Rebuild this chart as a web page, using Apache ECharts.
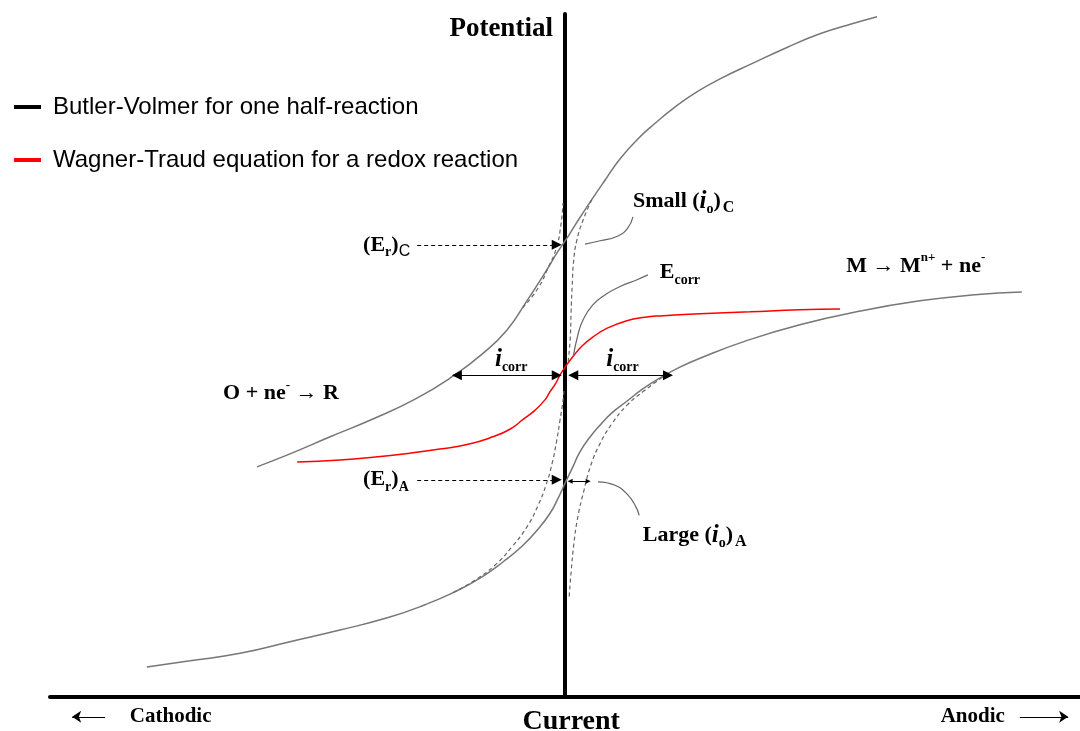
<!DOCTYPE html>
<html><head><meta charset="utf-8">
<script src="https://cdn.jsdelivr.net/npm/echarts@6/dist/echarts.min.js"></script>
<style>html,body{margin:0;padding:0;background:#fff}#c{width:1080px;height:731px}</style>
</head><body><div id="c"></div>
<script>
// x = current (cathodic < 0 < anodic), y = potential (arbitrary units)
const bvCathodic = [[-59.8,33.7],[-53.4,35.6],[-45.6,38.1],[-37.3,40.7],[-29.1,43.6],[-21.7,47.0],[-16.1,50.2],[-11.3,53.7],[-7.4,58.0],[-3.9,62.1],[-1.4,65.2],[0.4,67.2],[2.3,69.5],[4.9,72.5],[7.8,75.7],[10.7,78.8],[14.0,81.6],[17.5,84.0],[21.4,86.4],[25.6,88.6],[30.1,90.5],[36.5,92.8],[43.1,95.1],[49.5,97.1],[55.9,98.6],[60.6,99.6]];
const bvAnodic = [[-81.2,4.4],[-72.8,5.3],[-63.1,6.4],[-53.4,8.1],[-43.7,9.8],[-34.0,11.7],[-27.2,13.5],[-21.4,15.4],[-16.5,17.4],[-12.0,19.8],[-8.3,22.1],[-5.2,24.6],[-2.9,26.9],[-1.4,29.0],[0.2,31.6],[1.6,33.8],[2.9,35.9],[4.9,38.1],[6.8,39.8],[9.1,41.6],[12.0,43.3],[15.1,45.1],[18.4,46.7],[22.3,48.3],[26.2,49.6],[35.0,52.1],[45.6,54.5],[57.3,56.5],[68.9,58.0],[79.6,58.9],[88.7,59.3]];
const cathTafelExt = [[-8.2,57.0],[-5.2,59.9],[-3.3,62.8],[-1.7,65.7],[-0.8,69.1],[-0.4,72.3]];
const cathOxBranch = [[5.2,72.8],[3.5,69.8],[2.3,66.9],[1.7,64.0],[1.4,60.3],[1.2,56.7],[1.0,52.3],[0.6,49.0]];
const anodRedBranch = [[-21.7,15.3],[-17.5,17.1],[-13.6,19.3],[-10.3,22.0],[-7.4,24.9],[-5.2,28.1],[-3.7,31.0],[-2.5,34.2],[-1.6,37.6],[-1.0,40.4],[-0.4,43.3],[-0.2,44.8]];
const anodTafelExt = [[20.0,47.4],[15.5,44.9],[12.0,42.7],[9.1,40.0],[6.8,37.1],[5.0,33.9],[3.7,30.3],[2.5,26.4],[1.7,22.3],[1.2,18.4],[0.8,14.6]];
const wagnerTraud = [[-52.0,34.4],[-43.7,34.7],[-37.3,35.1],[-30.1,35.7],[-24.3,36.3],[-18.8,37.0],[-14.0,38.1],[-10.7,39.2],[-8.2,40.6],[-5.8,42.0],[-3.9,43.5],[-2.9,44.7],[-1.9,45.8],[-1.0,47.1],[0.2,48.5],[1.6,49.9],[3.3,51.4],[5.4,52.7],[8.2,54.0],[12.0,55.1],[15.5,55.6],[18.4,55.8],[26.2,56.1],[35.9,56.4],[45.6,56.7],[53.4,56.8]];
const leaderSmall = [[13.2,70.3],[12.2,68.7],[10.3,67.5],[6.8,66.8],[3.9,66.3]];
const leaderEcorr = [[16.1,61.8],[14.0,61.1],[10.7,60.1],[7.8,58.9],[5.4,57.4],[3.5,55.2],[2.5,53.0],[1.6,49.8]];
const leaderLarge = [[6.4,31.5],[9.7,31.0],[12.2,29.6],[13.8,27.8],[14.4,26.6]];
const arrowErC = [[-28.7,66.2],[-1.6,66.2]];
const arrowErA = [[-28.7,31.8],[-1.6,31.8]];
const arrowIcorrL = [[-21.0,47.1],[-1.6,47.1]];
const arrowIcorrR = [[1.6,47.1],[20.0,47.1]];
const arrowLargeIo = [[1.0,31.6],[4.5,31.6]];
const arrowCathodic = [[-89.3,-2.9],[-95.7,-2.9]];
const arrowAnodic = [[88.3,-2.9],[97.7,-2.9]];
const legendNames = ['Butler-Volmer for one half-reaction', 'Wagner-Traud equation for a redox reaction'];
// annotation texts and their anchor points (data coords)
const annotations = [
  {text:'{big|Potential}', at:[-12.4,97.8], align:'center'},
  {text:'{t|Small (}{it|i}{sub|o}{t|)}{subC|C}', at:[13.2,72.6], align:'left'},
  {text:'{t|E}{sub|corr}', at:[18.4,62.2], align:'left'},
  {text:'{t|M → M}{sup|n+}{t| + ne}{sup|-}', at:[54.6,63.1], align:'left'},
  {text:'{t|O + ne}{sup|-}{t| → R}', at:[-66.4,44.4], align:'left'},
  {text:'{t|(E}{sub|r}{t|)}{subn|C}', at:[-39.2,66.2], align:'left'},
  {text:'{t|(E}{sub|r}{t|)}{sub|A}', at:[-39.2,31.8], align:'left'},
  {text:'{it|i}{sub|corr}', at:[-13.6,49.4], align:'left'},
  {text:'{it|i}{sub|corr}', at:[8.0,49.4], align:'left'},
  {text:'{t|Large (}{it|i}{sub|o}{t|)}{subC|A}', at:[15.1,23.7], align:'left'},
  {text:'{b|Cathodic}', at:[-84.5,-2.9], align:'left'},
  {text:'{cur|Current}', at:[1.2,-3.6], align:'center'},
  {text:'{b|Anodic}', at:[85.4,-2.9], align:'right'}
];

const SERIF = '"Liberation Serif","Times New Roman",serif';
const rich = {
  t:{fontFamily:SERIF,fontWeight:'bold',fontSize:22,color:'#000',lineHeight:30},
  it:{fontFamily:SERIF,fontWeight:'bold',fontStyle:'italic',fontSize:25,color:'#000',lineHeight:30},
  sub:{fontFamily:SERIF,fontWeight:'bold',fontSize:14,color:'#000',lineHeight:15,verticalAlign:'bottom'},
  subC:{fontFamily:SERIF,fontWeight:'bold',fontSize:16,color:'#000',lineHeight:16,verticalAlign:'bottom',padding:[0,0,0,2]},
  subn:{fontFamily:'"Liberation Sans",Arial,sans-serif',fontSize:16,color:'#000',lineHeight:17,verticalAlign:'bottom'},
  sup:{fontFamily:SERIF,fontWeight:'bold',fontSize:13,color:'#000',lineHeight:15,verticalAlign:'top'},
  big:{fontFamily:SERIF,fontWeight:'bold',fontSize:27,color:'#000',lineHeight:30},
  b:{fontFamily:SERIF,fontWeight:'bold',fontSize:21,color:'#000',lineHeight:28},
  cur:{fontFamily:SERIF,fontWeight:'bold',fontSize:28,color:'#000',lineHeight:32}
};

function curve(name, data, color, width, dashed, legendColor) {
  return {type:'line', name:name, data:data, smooth:0.5, showSymbol:false, symbol:'none', silent:true,
    lineStyle:{color:color, width:width, type: dashed ? [4,3] : 'solid'},
    itemStyle:{color: legendColor || color}, emphasis:{disabled:true}, z:3};
}
function arrows(data, dashed, sym, size, width) {
  return {type:'lines', coordinateSystem:'cartesian2d', silent:true, clip:false, symbol:sym, symbolSize:size,
    lineStyle:{color:'#000', width:width, opacity:1, type: dashed ? [4,3] : 'solid', curveness:0},
    data:data.map(c => ({coords:c})), z:4};
}

const GRAY = '#777';
const DGRAY = '#666';
const option = {
  animation:false,
  backgroundColor:'#fff',
  grid:{left:50, right:0, top:14, bottom:34, containLabel:false},
  xAxis:{type:'value', min:-100, max:100, axisLine:{show:true, onZero:true, lineStyle:{color:'#000', width:4}},
    axisTick:{show:false}, axisLabel:{show:false}, splitLine:{show:false}},
  yAxis:{type:'value', min:0, max:100, axisLine:{show:true, onZero:true, lineStyle:{color:'#000', width:4}},
    axisTick:{show:false}, axisLabel:{show:false}, splitLine:{show:false}},
  legend:{orient:'vertical', left:14, top:94, padding:0, icon:'rect', itemWidth:27, itemHeight:4, itemGap:27, selectedMode:false,
    textStyle:{fontFamily:'"Liberation Sans",Arial,sans-serif', fontSize:24, color:'#000', lineHeight:26, padding:[0,0,0,7]},
    data:[{name:legendNames[0], itemStyle:{color:'#000'}}, {name:legendNames[1], itemStyle:{color:'#f00'}}]},
  series:[
    curve(legendNames[0], bvCathodic, GRAY, 1.5, false, '#000'),
    curve(legendNames[0], bvAnodic, GRAY, 1.5, false, '#000'),
    curve('ext1', cathTafelExt, DGRAY, 1.2, true),
    curve('ext2', cathOxBranch, DGRAY, 1.2, true),
    curve('ext3', anodRedBranch, DGRAY, 1.2, true),
    curve('ext4', anodTafelExt, DGRAY, 1.2, true),
    curve(legendNames[1], wagnerTraud, '#f00', 1.5, false),
    curve('lead1', leaderSmall, DGRAY, 1.2, false),
    curve('lead2', leaderEcorr, DGRAY, 1.2, false),
    curve('lead3', leaderLarge, DGRAY, 1.2, false),
    arrows([arrowErC, arrowErA], true, ['none','triangle'], 10, 1.2),
    arrows([arrowIcorrL, arrowIcorrR], false, ['triangle','triangle'], 10, 1.2),
    arrows([arrowLargeIo], false, ['triangle','triangle'], 5, 1),
    arrows([arrowCathodic, arrowAnodic], false, ['none','arrow'], 9, 1.2),
    {type:'scatter', name:'labels', silent:true, clip:false, symbolSize:0, z:6,
      itemStyle:{opacity:1},
      data: annotations.map(a => ({value:a.at, label:{formatter:a.text, align:a.align}})),
      label:{show:true, position:'inside', verticalAlign:'middle', color:'#000', opacity:1, textBorderWidth:0, rich:rich}}
  ]
};
const chart = echarts.init(document.getElementById('c'));
chart.setOption(option);
</script></body></html>
